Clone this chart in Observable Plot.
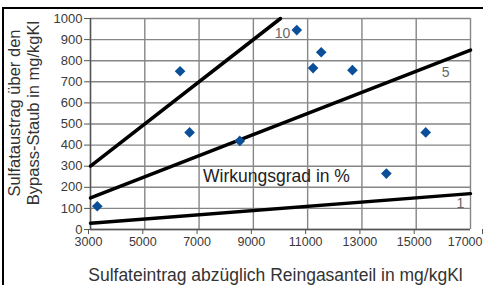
<!DOCTYPE html>
<html>
<head>
<meta charset="utf-8">
<script src="https://cdn.jsdelivr.net/npm/d3@7"></script>
<script src="https://cdn.jsdelivr.net/npm/@observablehq/plot@0.6"></script>
<style>
  html, body { margin: 0; padding: 0; background: #fff; }
  #wrap { position: relative; width: 483px; height: 285px; overflow: hidden; }
  #frame { position: absolute; left: 2px; top: 7px; width: 490px; height: 300px;
           border-top: 2px solid #000; border-left: 2px solid #000; pointer-events: none; }
</style>
</head>
<body>
<div id="wrap"><div id="frame"></div></div>
<script>
// Data
const sulfatEintrag = [3250, 6300, 6650, 8500, 10600, 11500, 11200, 12650, 15350, 13900];
const sulfatAustrag = [110, 750, 460, 420, 945, 840, 765, 755, 460, 265];
const wirkungsgrade = [1, 5, 10];           // efficiency lines in %
const lineLabelX = [16630, 16080, 10075];   // label anchors for 1, 5, 10
const lineLabelY = [123, 744, 929];
const xTicks = [3000, 5000, 7000, 9000, 11000, 13000, 15000, 17000];
const yTicks = [0, 100, 200, 300, 400, 500, 600, 700, 800, 900, 1000];
const xDomain = [3000, 17000];
const yDomain = [0, 1000];
const xTitle = "Sulfateintrag abzüglich Reingasanteil in mg/kgKl";
const yTitle = "Sulfataustrag über den\nBypass-Staub in mg/kgKl";
const centerLabel = "Wirkungsgrad in %";

const points = sulfatEintrag.map((x, i) => ({x, y: sulfatAustrag[i]}));
const lines = wirkungsgrade.flatMap(e => {
  const x1 = Math.min(xDomain[1], yDomain[1] / (e / 100));
  return [{e, x: xDomain[0], y: xDomain[0] * e / 100}, {e, x: x1, y: x1 * e / 100}];
});
const labels = wirkungsgrade.map((e, i) => ({text: String(e), x: lineLabelX[i], y: lineLabelY[i]}));
const fmt = d => String(d);

const chart = Plot.plot({
  width: 483,
  height: 285,
  marginLeft: 90,
  marginRight: 13,
  marginTop: 18,
  marginBottom: 56,
  style: {fontFamily: "Liberation Sans, Arial, sans-serif", fontSize: "13px", background: "transparent"},
  x: {domain: xDomain, label: null},
  y: {domain: yDomain, label: null},
  marks: [
    Plot.gridX(xTicks, {stroke: "#868686", strokeOpacity: 1, strokeWidth: 1.4}),
    Plot.gridY(yTicks, {stroke: "#868686", strokeOpacity: 1, strokeWidth: 1.4}),
    Plot.axisX({ticks: xTicks.slice(0, -1), tickFormat: fmt, tickSize: 5, tickPadding: 3, dx: -2, stroke: "#555", fill: "#3a3a3a", fontSize: 12.5, label: null}),
    Plot.axisX({ticks: xTicks.slice(-1), tickFormat: fmt, tickSize: 5, tickPadding: 3, textAnchor: "end", dx: 12, stroke: "#555", fill: "#3a3a3a", fontSize: 12.5, label: null}),
    Plot.axisY({ticks: yTicks, tickFormat: fmt, tickSize: 6, tickPadding: 2, stroke: "#555", fill: "#3a3a3a", fontSize: 13, label: null}),
    Plot.ruleX([xDomain[0]], {stroke: "#555", strokeWidth: 1.4}),
    Plot.ruleY([yDomain[0]], {stroke: "#555", strokeWidth: 1.4}),
    Plot.line(lines, {x: "x", y: "y", z: "e", stroke: "#000", strokeWidth: 3.5}),
    Plot.dot(points, {x: "x", y: "y", symbol: "diamond2", r: 4.8, fill: "#0b4f98", stroke: "none"}),
    Plot.text(labels, {x: "x", y: "y", text: "text", fill: "#666", fontSize: 14}),
    Plot.text([centerLabel], {frameAnchor: "middle", dx: -4, dy: 52, fill: "#222", fontSize: 17.5}),
    Plot.text([xTitle], {frameAnchor: "bottom", dx: -5, dy: 51, fill: "#333", fontSize: 17.5}),
    Plot.text([yTitle], {frameAnchor: "left", textAnchor: "middle", rotate: -90, dx: -67, dy: -11, fill: "#333", fontSize: 16.5, lineHeight: 1.15})
  ]
});
document.getElementById("wrap").prepend(chart);
chart.style.position = "absolute";
chart.style.left = "0";
chart.style.top = "0";
</script>
</body>
</html>
